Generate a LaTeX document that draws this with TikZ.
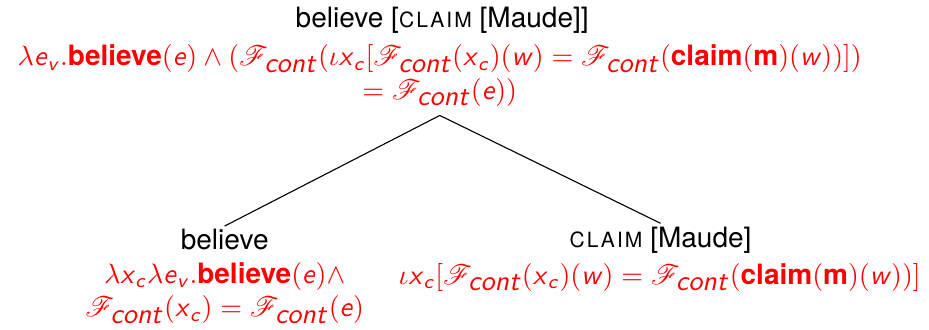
\documentclass[tikz,border=0pt]{standalone}
\usepackage{amsmath}
\usepackage{mathrsfs}
\usepackage{fontspec}
\setmainfont{TeX Gyre Heros}
\usetikzlibrary{positioning}

\newcommand{\vr}[1]{\textsf{\textit{#1}}}
\newcommand{\cst}[1]{\textbf{#1}}
\newcommand{\Fc}{\mathscr{F}_{\mbox{\vr{cont}}}}
\newcommand{\smcaps}[1]{{\addfontfeature{LetterSpace=10}\fontsize{7.5pt}{9pt}\selectfont #1}}

\tikzset{
  lab/.style={inner sep=1pt},
  sem/.style={text=red, align=center, inner xsep=1pt, inner ysep=3pt}
}

\begin{document}
\begin{tikzpicture}
      \useasboundingbox (0,0) rectangle (11.66,-4.14);
      \node[lab] (Root) at (5.55,-0.25){believe [\smcaps{CLAIM} [Maude]]};
      \node[sem] (RootSem) at (5.52,-0.95){$\lambda \vr{e}_{\vr{v}}.\cst{believe}(\vr{e}) \wedge (\Fc(\iota \vr{x}_{\vr{c}}[\Fc(\vr{x}_{\vr{c}})(\vr{w}) = \Fc(\cst{claim}(\cst{m})(\vr{w}))])$\\
        $= \Fc(\vr{e}))$};
      \node[lab] (Believe) at (2.82,-3.01){believe};
      \node[sem] (BelieveSem) at (2.82,-3.68){$\lambda \vr{x}_{\vr{c}}\lambda \vr{e}_{\vr{v}}.\cst{believe}(\vr{e}) \wedge$\\
        $\Fc(\vr{x}_{\vr{c}}) = \Fc(\vr{e})$};
      \node[lab] (Claim) at (8.29,-3.01){\smcaps{CLAIM} [Maude]};
      \node[sem] (ClaimSem) at (8.28,-3.48){$\iota \vr{x}_{\vr{c}}[\Fc(\vr{x}_{\vr{c}})(\vr{w}) = \Fc(\cst{claim}(\cst{m})(\vr{w}))]$};

      \draw (RootSem.south) -- (Believe.north);
      \draw (RootSem.south) -- (Claim.north);
    \end{tikzpicture}
\end{document}
